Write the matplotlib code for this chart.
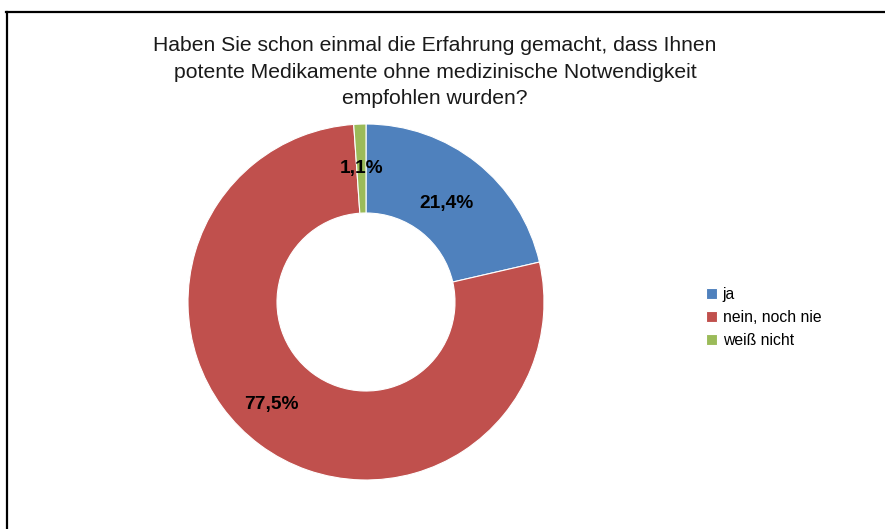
import matplotlib
matplotlib.use("Agg")
import numpy as np
import matplotlib.pyplot as plt
from matplotlib.lines import Line2D

plt.rcParams['font.family'] = ['Liberation Sans', 'DejaVu Sans']

title = "Haben Sie schon einmal die Erfahrung gemacht, dass Ihnen\npotente Medikamente ohne medizinische Notwendigkeit\nempfohlen wurden?"
categories = ["ja", "nein, noch nie", "weiß nicht"]
values = [21.4, 77.5, 1.1]
colors = ["#4F81BD", "#C0504D", "#9BBB59"]

W, H = 885, 529
fig = plt.figure(figsize=(W / 100, H / 100), dpi=100)

cx, cy, r = 366, 302, 178
ax = fig.add_axes([(cx - r) / W, (H - cy - r) / H, 2 * r / W, 2 * r / H])
wedges, texts, autotexts = ax.pie(
    values, colors=colors, startangle=90, counterclock=False, radius=1,
    wedgeprops=dict(width=0.5, edgecolor='white', linewidth=0.8),
    autopct=lambda p: f"{p:.1f}%".replace('.', ','), pctdistance=0.75,
    textprops=dict(fontsize=13.8, fontweight='bold', color='black'))
ax.set_xlim(-1, 1)
ax.set_ylim(-1, 1)
ax.set_aspect('equal')
ax.axis('off')

# nudge the large-slice label a little toward the lower-left, as in the original
w = wedges[1]
mid = np.deg2rad((w.theta1 + w.theta2) / 2 - 6.5)
autotexts[1].set_position((0.775 * np.cos(mid), 0.775 * np.sin(mid) - 0.01))
w0 = wedges[0]
mid0 = np.deg2rad((w0.theta1 + w0.theta2) / 2)
autotexts[0].set_position((0.73 * np.cos(mid0), 0.73 * np.sin(mid0) - 0.02))

fig.text(435 / W, 1 - 72 / H, title, ha='center', va='center', fontsize=15.2,
         linespacing=1.53, color='#1a1a1a')

leg = fig.legend(wedges, categories, loc='upper left',
                 bbox_to_anchor=(692 / W, 1 - 273 / H), frameon=False,
                 fontsize=11.3, handlelength=0.7, handleheight=0.7,
                 handletextpad=0.35, labelspacing=0.5)

fig.add_artist(Line2D([6 / W, 1], [1 - 12 / H, 1 - 12 / H], color='black', lw=1.6,
                      transform=fig.transFigure))
fig.add_artist(Line2D([7 / W, 7 / W], [1 - 12 / H, 0], color='black', lw=1.6,
                      transform=fig.transFigure))

fig.savefig("out.png", dpi=100, facecolor='white')
